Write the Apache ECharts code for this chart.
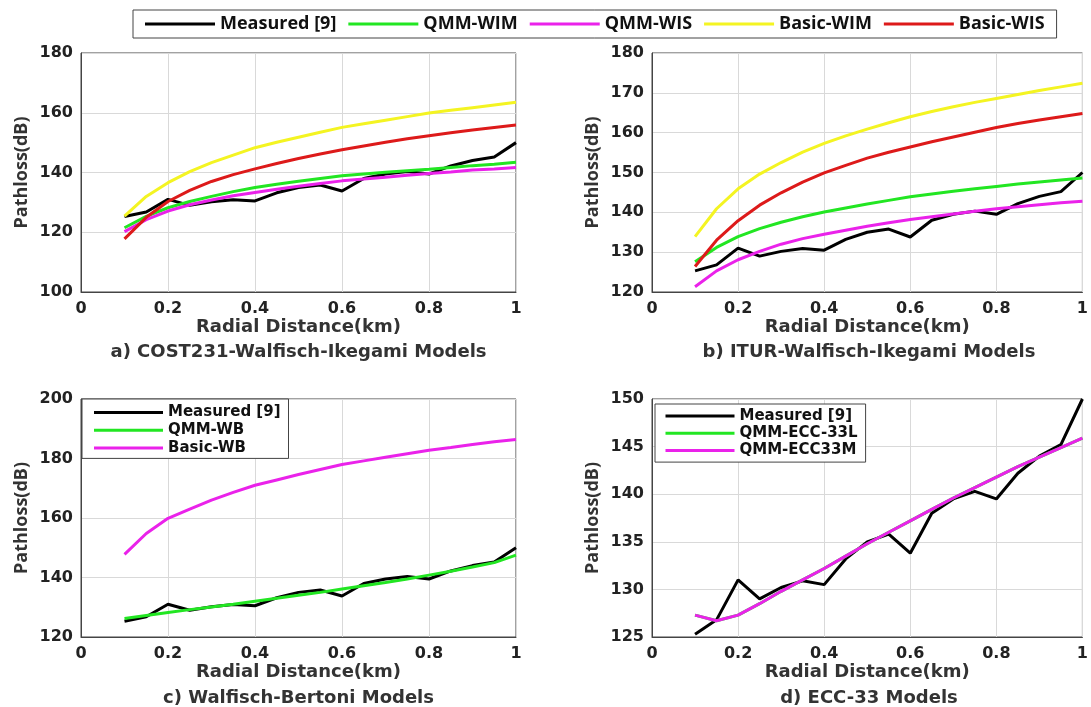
<!DOCTYPE html>
<html>
<head>
<meta charset="utf-8">
<script src="https://cdn.jsdelivr.net/npm/echarts@6/dist/echarts.min.js"></script>
<style>
  html, body { margin: 0; padding: 0; background: #fff; }
  #chart { width: 1091px; height: 707px; }
</style>
</head>
<body>
<div id="chart"></div>
<script>
// Radial distance (km) shared by every panel
const distance = [0.10, 0.15, 0.20, 0.25, 0.30, 0.35, 0.40, 0.45, 0.50, 0.55, 0.60, 0.65, 0.70, 0.75, 0.80, 0.85, 0.90, 0.95, 1.00];

// Measured path loss (dB)
const measured = [125.3, 126.8, 131.0, 129.0, 130.2, 130.9, 130.5, 133.2, 135.0, 135.8, 133.8, 138.0, 139.5, 140.3, 139.5, 142.2, 144.0, 145.2, 150.0];

// a) COST231-Walfisch-Ikegami
const costQmmWim   = [121.5, 125.3, 128.2, 130.3, 132.0, 133.6, 135.0, 136.1, 137.1, 138.0, 138.9, 139.5, 140.1, 140.6, 141.1, 141.7, 142.3, 142.8, 143.4];
const costQmmWis   = [120.2, 124.2, 127.1, 129.2, 130.8, 132.2, 133.3, 134.4, 135.4, 136.3, 137.2, 137.8, 138.4, 139.1, 139.7, 140.2, 140.8, 141.2, 141.7];
const costBasicWim = [125.4, 132.0, 136.6, 140.3, 143.3, 145.8, 148.3, 150.1, 151.8, 153.5, 155.1, 156.3, 157.5, 158.7, 159.9, 160.8, 161.7, 162.6, 163.5];
const costBasicWis = [117.8, 125.0, 130.3, 134.0, 137.0, 139.3, 141.2, 143.0, 144.7, 146.2, 147.6, 148.9, 150.1, 151.3, 152.3, 153.3, 154.2, 155.1, 155.9];

// b) ITUR-Walfisch-Ikegami
const iturQmmWim   = [127.6, 131.2, 133.9, 135.9, 137.5, 138.9, 140.1, 141.1, 142.1, 143.0, 143.9, 144.6, 145.3, 145.9, 146.5, 147.1, 147.6, 148.1, 148.6];
const iturQmmWis   = [121.3, 125.3, 128.1, 130.2, 132.0, 133.4, 134.5, 135.5, 136.5, 137.4, 138.2, 138.9, 139.6, 140.3, 140.9, 141.4, 141.9, 142.4, 142.8];
const iturBasicWim = [133.9, 140.9, 145.9, 149.6, 152.5, 155.1, 157.3, 159.2, 160.9, 162.5, 164.0, 165.3, 166.5, 167.6, 168.6, 169.6, 170.6, 171.5, 172.4];
const iturBasicWis = [126.4, 133.0, 137.9, 141.8, 144.9, 147.6, 149.9, 151.8, 153.6, 155.1, 156.4, 157.7, 158.9, 160.1, 161.3, 162.3, 163.2, 164.0, 164.8];

// c) Walfisch-Bertoni
const wbQmm   = [126.2, 127.2, 128.2, 129.2, 130.1, 131.0, 132.0, 133.0, 134.0, 135.0, 136.1, 137.2, 138.3, 139.5, 140.8, 142.1, 143.5, 145.0, 147.5];
const wbBasic = [147.8, 154.8, 159.9, 163.0, 166.0, 168.6, 171.0, 172.8, 174.6, 176.3, 178.0, 179.2, 180.4, 181.6, 182.8, 183.7, 184.7, 185.6, 186.4];

// d) ECC-33
const eccQmmL = [127.3, 126.7, 127.3, 128.5, 129.8, 131.0, 132.2, 133.5, 134.8, 136.0, 137.2, 138.4, 139.6, 140.7, 141.8, 142.9, 143.9, 144.9, 145.9];
const eccQmmM = [127.3, 126.7, 127.3, 128.5, 129.8, 131.0, 132.2, 133.5, 134.8, 136.0, 137.2, 138.4, 139.6, 140.7, 141.8, 142.9, 143.9, 144.9, 145.9];

// Axis ranges per panel
const yRanges = [
  { min: 100, max: 180, interval: 20 },
  { min: 120, max: 180, interval: 10 },
  { min: 120, max: 200, interval: 20 },
  { min: 125, max: 150, interval: 5 }
];
const subtitles = [
  'a) COST231-Walfisch-Ikegami Models',
  'b) ITUR-Walfisch-Ikegami Models',
  'c) Walfisch-Bertoni Models',
  'd) ECC-33 Models'
];

const COLORS = {
  black: '#000000',
  green: '#22e622',
  magenta: '#ea22ea',
  yellow: '#f4f422',
  red: '#dd1a1a'
};

const TICK_FONT = 'DejaVu Sans';
const CAL_FONT = 'Open Sans';

const grids = [
  { left: 81, top: 53, width: 435, height: 239 },
  { left: 652, top: 53, width: 434, height: 239 },
  { left: 81, top: 399, width: 435, height: 238 },
  { left: 652, top: 399, width: 434, height: 238 }
].map(g => Object.assign(g, { show: true, borderColor: '#444', borderWidth: 1, backgroundColor: 'transparent', containLabel: false }));

const xAxes = grids.map((g, i) => ({
  type: 'value',
  gridIndex: i,
  min: 0, max: 1, interval: 0.2,
  name: 'Radial Distance(km)',
  nameLocation: 'middle',
  nameGap: 25,
  nameTextStyle: { fontFamily: TICK_FONT, fontWeight: 'bold', fontSize: 18, color: '#333' },
  axisLine: { show: true, lineStyle: { color: '#444', width: 1 } },
  axisTick: { show: false },
  axisLabel: { fontFamily: TICK_FONT, fontWeight: 'bold', fontSize: 16, color: '#222', margin: 9 },
  splitLine: { show: true, lineStyle: { color: '#d9d9d9', width: 1 } }
}));

const yAxes = grids.map((g, i) => ({
  type: 'value',
  gridIndex: i,
  min: yRanges[i].min, max: yRanges[i].max, interval: yRanges[i].interval,
  name: 'Pathloss(dB)',
  nameLocation: 'middle',
  nameRotate: 90,
  nameGap: 50,
  nameTextStyle: { fontFamily: CAL_FONT, fontWeight: 'bold', fontSize: 18, color: '#333' },
  axisLine: { show: true, lineStyle: { color: '#444', width: 1 } },
  axisTick: { show: false },
  axisLabel: { fontFamily: TICK_FONT, fontWeight: 'bold', fontSize: 16, color: '#222', margin: 8 },
  splitLine: { show: true, lineStyle: { color: '#d9d9d9', width: 1 } }
}));

function pairs(vals) {
  return distance.map((d, k) => [d, vals[k]]);
}
function line(name, vals, color, gi) {
  return {
    type: 'line',
    name: name,
    xAxisIndex: gi,
    yAxisIndex: gi,
    data: pairs(vals),
    symbol: 'none',
    smooth: false,
    lineStyle: { color: color, width: 3 },
    itemStyle: { color: color },
    emphasis: { disabled: true },
    animation: false
  };
}

const series = [
  line('Measured [9]', measured, COLORS.black, 0),
  line('QMM-WIM', costQmmWim, COLORS.green, 0),
  line('QMM-WIS', costQmmWis, COLORS.magenta, 0),
  line('Basic-WIM', costBasicWim, COLORS.yellow, 0),
  line('Basic-WIS', costBasicWis, COLORS.red, 0),

  line('Measured [9]', measured, COLORS.black, 1),
  line('QMM-WIM', iturQmmWim, COLORS.green, 1),
  line('QMM-WIS', iturQmmWis, COLORS.magenta, 1),
  line('Basic-WIM', iturBasicWim, COLORS.yellow, 1),
  line('Basic-WIS', iturBasicWis, COLORS.red, 1),

  line('Measured [9]', measured, COLORS.black, 2),
  line('QMM-WB', wbQmm, COLORS.green, 2),
  line('Basic-WB', wbBasic, COLORS.magenta, 2),

  line('Measured [9]', measured, COLORS.black, 3),
  line('QMM-ECC-33L', eccQmmL, COLORS.green, 3),
  line('QMM-ECC33M', eccQmmM, COLORS.magenta, 3)
];

const titles = subtitles.map((t, i) => ({
  text: t,
  left: grids[i].left + grids[i].width / 2,
  textAlign: 'center',
  top: i < 2 ? 343 : 689,
  padding: 0,
  textStyle: { fontFamily: TICK_FONT, fontWeight: 'bold', fontSize: 18, color: '#333' }
}));

// Legend swatches are plain line segments (no point marker)
const legendCommon = {
  icon: 'rect',
  itemHeight: 3,
  backgroundColor: '#fff',
  borderColor: '#444',
  borderWidth: 1,
  selectedMode: false
};

const legends = [
  Object.assign({}, legendCommon, {
    data: ['Measured [9]', 'QMM-WIM', 'QMM-WIS', 'Basic-WIM', 'Basic-WIS'],
    orient: 'horizontal',
    left: 133, top: 10,
    padding: [5, 12, 5, 12],
    itemWidth: 70, itemGap: 12,
    textStyle: { fontFamily: CAL_FONT, fontWeight: 'bold', fontSize: 18, color: '#111', lineHeight: 18 }
  }),
  Object.assign({}, legendCommon, {
    data: ['Measured [9]', 'QMM-WB', 'Basic-WB'],
    orient: 'vertical',
    left: 82, top: 399,
    padding: [5, 8, 2, 12],
    itemWidth: 69, itemGap: 0.7,
    textStyle: { fontFamily: TICK_FONT, fontWeight: 'bold', fontSize: 15, color: '#111', lineHeight: 17 }
  }),
  Object.assign({}, legendCommon, {
    data: ['Measured [9]', 'QMM-ECC-33L', 'QMM-ECC33M'],
    orient: 'vertical',
    left: 655, top: 404,
    padding: [3.5, 8, 3, 10.5],
    itemWidth: 69, itemGap: 0.3,
    textStyle: { fontFamily: TICK_FONT, fontWeight: 'bold', fontSize: 15, color: '#111', lineHeight: 17 }
  })
];

const chart = echarts.init(document.getElementById('chart'), null, { renderer: 'canvas' });
chart.setOption({
  backgroundColor: '#ffffff',
  animation: false,
  title: titles,
  legend: legends,
  grid: grids,
  xAxis: xAxes,
  yAxis: yAxes,
  series: series
});
</script>
</body>
</html>
